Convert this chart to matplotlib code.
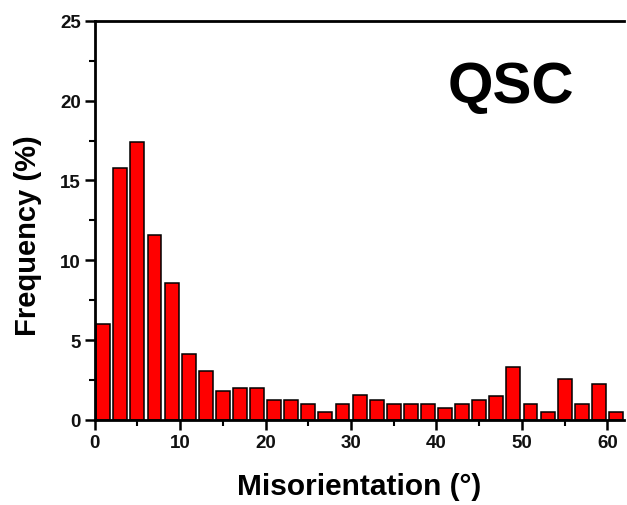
import matplotlib
matplotlib.use("Agg")
import matplotlib.pyplot as plt
import numpy as np

bin_center = list(range(1, 62, 2))
frequency = [6.0, 15.8, 17.4, 11.6, 8.6, 4.15, 3.05, 1.8, 2.0, 2.0,
             1.25, 1.25, 1.0, 0.5, 1.0, 1.55, 1.25, 1.0, 1.0, 1.0,
             0.75, 1.0, 1.25, 1.52, 3.32, 1.0, 0.5, 2.55, 1.0, 2.28, 0.5]
x_ticks = [0, 10, 20, 30, 40, 50, 60]
y_ticks = [0, 5, 10, 15, 20, 25]

plt.rcParams['font.family'] = ['Liberation Sans', 'DejaVu Sans']
fig = plt.figure(figsize=(6.27, 5.06), dpi=100)
ax = fig.add_axes([0.151, 0.168, 0.845, 0.789])

ax.bar(bin_center, frequency, width=1.62, align='center', color='#ff0000',
       edgecolor='black', linewidth=1.1)
ax.set_xlim(0, 62)
ax.set_ylim(0, 25)
ax.set_xticks(x_ticks)
ax.set_yticks(y_ticks)
ax.set_xticks(np.arange(5, 62, 10), minor=True)
ax.set_yticks(np.arange(2.5, 25, 5), minor=True)
for s in ['left', 'bottom', 'top']:
    ax.spines[s].set_linewidth(2)
ax.spines['right'].set_visible(False)
ax.tick_params(which='major', direction='out', length=7, width=1.8,
               labelsize=13.5, pad=3)
ax.tick_params(which='minor', direction='out', length=4, width=1.5)
ax.tick_params(top=False, right=False, which='both')
for lab in ax.get_xticklabels() + ax.get_yticklabels():
    lab.set_fontweight('bold')
    lab.set_color('#111111')

ax.set_xlabel('Misorientation (°)', fontsize=21.5, fontweight='bold', labelpad=15)
ax.set_ylabel('Frequency (%)', fontsize=21, fontweight='bold')
ax.yaxis.set_label_coords(-0.1, 0.464)
ax.text(0.667, 0.833, 'QSC', transform=ax.transAxes, fontsize=42,
        fontweight='bold', ha='left', va='center')

fig.savefig('out.png', dpi=100)
